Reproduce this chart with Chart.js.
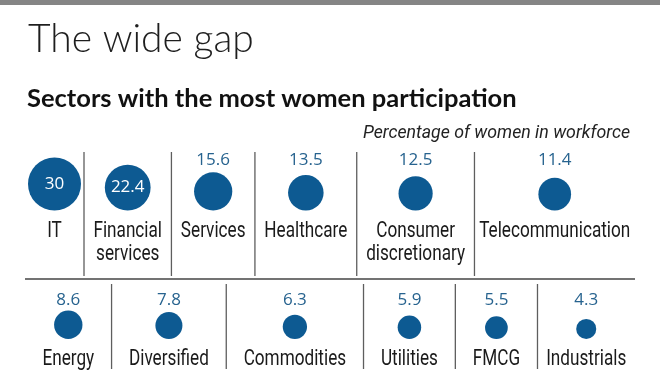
<!DOCTYPE html>
<html>
<head>
<meta charset="utf-8">
<title>The wide gap</title>
<script src="https://cdn.jsdelivr.net/npm/chart.js@4.4.1/dist/chart.umd.min.js"></script>
<style>
  html, body { margin: 0; padding: 0; background: #fff; }
  #wrap { width: 660px; height: 387px; }
</style>
</head>
<body>
<div id="wrap"><canvas id="gapChart" width="660" height="387"></canvas></div>
<script>
// Top row sectors (label lines) and % of women in workforce
const topSectors = [['IT'], ['Financial', 'services'], ['Services'], ['Healthcare'], ['Consumer', 'discretionary'], ['Telecommunication']];
const topValues = [30, 22.4, 15.6, 13.5, 12.5, 11.4];

// Bottom row
const bottomSectors = [['Energy'], ['Diversified'], ['Commodities'], ['Utilities'], ['FMCG'], ['Industrials']];
const bottomValues = [8.6, 7.8, 6.3, 5.9, 5.5, 4.3];

const TITLE = 'The wide gap';
const SUBTITLE = 'Sectors with the most women participation';
const NOTE = 'Percentage of women in workforce';

// look
const BLUE = '#0d5a92';
const VALUE_BLUE = '#27638f';
const LABEL_FONT = '22px Roboto, sans-serif';
const LABEL_SQUEEZE = 0.78; // fake a condensed face
const NOTE_FONT = 'italic 18px Roboto, sans-serif';
const NOTE_SQUEEZE = 0.985;
const VALUE_FONT = '17px "Open Sans", sans-serif';
const LEFT = 25, RIGHT = 635;
const MAX_R = 26.5; // radius of the biggest bubble
const DIVIDER_Y = 279;

const rows = [
  { sectors: topSectors, values: topValues, circleBase: 210.5, valueBase: 165, labelBase: 237, lineTop: 152, lineBottom: 276 },
  { sectors: bottomSectors, values: bottomValues, circleBase: 339, valueBase: 305, labelBase: 365, lineTop: 284, lineBottom: 369 }
];

const maxValue = Math.max(...topValues, ...bottomValues);
function radius(v) {
  // area proportional to value
  return MAX_R * Math.sqrt(v / maxValue);
}

function squeezedText(ctx, text, x, y, sx) {
  ctx.save();
  ctx.translate(x, y);
  ctx.scale(sx, 1);
  ctx.fillText(text, 0, 0);
  ctx.restore();
}

// Column widths: label width plus a share of the spare room (the last
// column only gets half a share), never narrower than its bubble + air
const measureCtx = document.createElement('canvas').getContext('2d');
rows.forEach(row => {
  measureCtx.font = LABEL_FONT;
  const n = row.values.length;
  const textW = row.sectors.map(lines => Math.max(...lines.map(l => measureCtx.measureText(l).width * LABEL_SQUEEZE)));
  const minW = row.values.map(v => 2 * radius(v) + 6);
  const share = textW.map((w, i) => (i === n - 1 ? 0.5 : 1));
  const total = RIGHT - LEFT;
  let extra = 0;
  for (let it = 0; it < 20; it++) {
    let fixedSum = 0, freeText = 0, shares = 0;
    textW.forEach((w, i) => {
      if (w + extra * share[i] < minW[i]) fixedSum += minW[i];
      else { freeText += w; shares += share[i]; }
    });
    extra = (total - fixedSum - freeText) / shares;
  }
  const widths = textW.map((w, i) => Math.max(w + extra * share[i], minW[i]));
  row.centers = [];
  row.seps = [];
  let x = LEFT;
  widths.forEach((cw, i) => {
    row.centers.push(x + cw / 2);
    x += cw;
    if (i < n - 1) row.seps.push(x);
  });
});

const decor = {
  id: 'decor',
  beforeDraw(chart) {
    const ctx = chart.ctx;
    ctx.save();
    // top bar
    ctx.fillStyle = '#858585';
    ctx.fillRect(0, 0, 660, 5);

    ctx.fillStyle = '#1e1e1e';
    ctx.textAlign = 'left';
    ctx.textBaseline = 'alphabetic';
    ctx.font = '300 39px Lato, sans-serif';
    ctx.fillText(TITLE, 28, 52);
    ctx.fillStyle = '#111';
    ctx.font = '700 25.5px Lato, sans-serif';
    ctx.fillText(SUBTITLE, 27, 107);
    ctx.fillStyle = '#222';
    ctx.font = NOTE_FONT;
    ctx.textAlign = 'right';
    squeezedText(ctx, NOTE, 630, 138, NOTE_SQUEEZE);

    // row divider
    ctx.strokeStyle = '#444';
    ctx.lineWidth = 1.5;
    ctx.beginPath();
    ctx.moveTo(LEFT, DIVIDER_Y);
    ctx.lineTo(RIGHT, DIVIDER_Y);
    ctx.stroke();

    ctx.strokeStyle = '#5e5e5e';
    ctx.lineWidth = 1.3;
    rows.forEach(row => {
      row.seps.forEach(x => {
        ctx.beginPath();
        ctx.moveTo(x, row.lineTop);
        ctx.lineTo(x, row.lineBottom);
        ctx.stroke();
      });
    });

    // sector labels, centred under their bubble
    ctx.fillStyle = '#1a1a1a';
    ctx.font = LABEL_FONT;
    ctx.textAlign = 'center';
    rows.forEach((row, d) => {
      const meta = chart.getDatasetMeta(d);
      row.sectors.forEach((lines, i) => {
        const x = meta.data[i].x;
        lines.forEach((line, k) => squeezedText(ctx, line, x, row.labelBase + k * 23, LABEL_SQUEEZE));
      });
    });
    ctx.restore();
  },
  afterDatasetsDraw(chart) {
    const ctx = chart.ctx;
    ctx.save();
    ctx.font = VALUE_FONT;
    ctx.textAlign = 'center';
    rows.forEach((row, d) => {
      const meta = chart.getDatasetMeta(d);
      row.values.forEach((v, i) => {
        const el = meta.data[i];
        const r = el.options.radius;
        if (r >= 20) {
          // big bubbles carry their value inside
          ctx.fillStyle = '#fff';
          ctx.textBaseline = 'middle';
          ctx.fillText(String(v), el.x, el.y);
        } else {
          ctx.fillStyle = VALUE_BLUE;
          ctx.textBaseline = 'alphabetic';
          ctx.fillText(String(v), el.x, row.valueBase);
        }
      });
    });
    ctx.restore();
  }
};

new Chart(document.getElementById('gapChart'), {
  type: 'bubble',
  data: {
    datasets: rows.map(row => ({
      data: row.values.map((v, i) => ({ x: row.centers[i], y: row.circleBase - radius(v), r: radius(v) })),
      backgroundColor: BLUE,
      borderWidth: 0,
      clip: false
    }))
  },
  options: {
    responsive: false,
    animation: false,
    devicePixelRatio: 1,
    events: [],
    layout: { padding: 0, autoPadding: false },
    scales: {
      x: { type: 'linear', min: 0, max: 660, display: false },
      y: { type: 'linear', min: 0, max: 387, reverse: true, display: false }
    },
    plugins: {
      legend: { display: false },
      tooltip: { enabled: false }
    }
  },
  plugins: [decor]
});
</script>
</body>
</html>
